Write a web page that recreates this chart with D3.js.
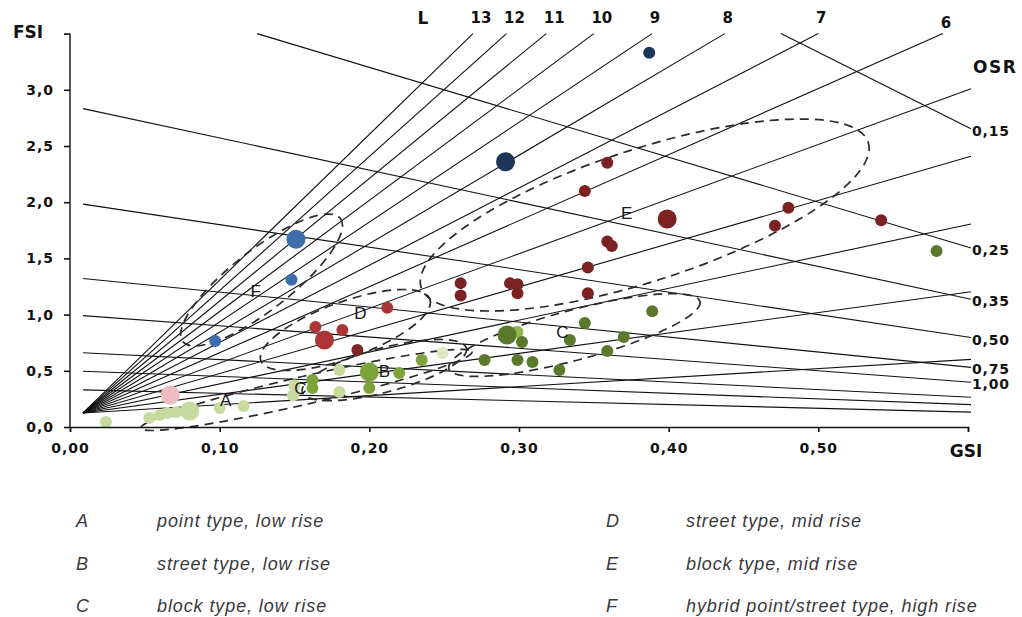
<!DOCTYPE html>
<html>
<head>
<meta charset="utf-8">
<script src="https://cdn.jsdelivr.net/npm/d3@7"></script>
<style>
  body { margin: 0; background: #fff; }
  text { font-family: "Liberation Sans", Arial, sans-serif; }
  .bold { font-family: "DejaVu Sans", sans-serif; font-weight: bold; fill: #111; }
</style>
</head>
<body>
<svg width="1022" height="617"></svg>
<script>
// Linhas de pavimentos (L) e de OSR
var floors = [1, 2, 3, 4, 5, 6, 7, 8, 9, 10, 11, 12, 13];
var floorLabels = [6, 7, 8, 9, 10, 11, 12, 13];
var osrValues = [0.15, 0.25, 0.35, 0.50, 0.75, 1.00, 1.50, 2.00, 3.00];
var osrLabels = ["0,15", "0,25", "0,35", "0,50", "0,75", "1,00"];

// Ticks
var xTicks = [0, 0.1, 0.2, 0.3, 0.4, 0.5, 0.6];
var xTickLabels = ["0,00", "0,10", "0,20", "0,30", "0,40", "0,50", ""];
var yTicks = [0, 0.5, 1, 1.5, 2, 2.5, 3, 3.5];
var yTickLabels = ["0,0", "0,5", "1,0", "1,5", "2,0", "2,5", "3,0", ""];

// Pontos (GSI, FSI, tom, tamanho relativo)
var gsiValues = [0.291, 0.387,
  0.151, 0.148, 0.097,
  0.359, 0.344, 0.399, 0.359, 0.362, 0.346, 0.346, 0.261, 0.261, 0.294, 0.299, 0.299, 0.480, 0.471, 0.542,
  0.164, 0.170, 0.182, 0.212, 0.192,
  0.067,
  0.024, 0.053, 0.060, 0.065, 0.071, 0.080, 0.100, 0.116, 0.150, 0.149, 0.180, 0.180, 0.249,
  0.162, 0.162, 0.200, 0.200, 0.220, 0.235, 0.299,
  0.292, 0.302, 0.277, 0.299, 0.309, 0.327, 0.334, 0.344, 0.359, 0.370, 0.389, 0.579];
var fsiValues = [2.36, 3.33,
  1.67, 1.31, 0.765,
  2.35, 2.10, 1.85, 1.65, 1.61, 1.42, 1.19, 1.28, 1.17, 1.28, 1.27, 1.19, 1.95, 1.79, 1.84,
  0.89, 0.774, 0.863, 1.06, 0.685,
  0.285,
  0.045, 0.08, 0.107, 0.125, 0.133, 0.142, 0.169, 0.187, 0.37, 0.28, 0.507, 0.311, 0.658,
  0.418, 0.347, 0.489, 0.347, 0.48, 0.596, 0.845,
  0.818, 0.756, 0.596, 0.596, 0.578, 0.507, 0.774, 0.925, 0.676, 0.80, 1.03, 1.566];
var shade = ["navy", "navy",
  "blue", "blue", "blue",
  "darkred", "darkred", "darkred", "darkred", "darkred", "darkred", "darkred", "darkred", "darkred", "darkred", "darkred", "darkred", "darkred", "darkred", "darkred",
  "red", "red", "red", "red", "maroon",
  "pink",
  "light", "light", "light", "light", "light", "light", "light", "light", "light", "light", "light", "light", "pale",
  "mid", "mid", "mid", "mid", "mid", "mid", "midlight",
  "dark", "dark", "dark", "dark", "dark", "dark", "dark", "dark", "dark", "dark", "dark", "dark"];
var size = [2, 1,
  2, 1, 1,
  1, 1, 2, 1, 1, 1, 1, 1, 1, 1, 1, 1, 1, 1, 1,
  1, 2, 1, 1, 1,
  2,
  1, 1, 1, 1, 1, 2, 1, 1, 1, 1, 1, 1, 1,
  1, 1, 2, 1, 1, 1, 1,
  2, 1, 1, 1, 1, 1, 1, 1, 1, 1, 1, 1];

// Agrupamentos (centro em GSI/FSI)
var clusterNames = ["A", "B", "C", "D", "E", "F"];
var clusterGsi = [0.158, 0.210, 0.337, 0.184, 0.384, 0.128];
var clusterFsi = [0.330, 0.507, 0.818, 0.863, 1.886, 1.308];

// Letras dentro do grafico
var letterText = ["A", "B", "C", "C", "D", "E", "F"];
var letterGsi = [0.104, 0.210, 0.154, 0.329, 0.194, 0.372, 0.124];
var letterFsi = [0.24, 0.498, 0.347, 0.845, 1.014, 1.904, 1.21];

// Legenda
var legendKeys = ["A", "B", "C", "D", "E", "F"];
var legendText = ["point type, low rise", "street type, low rise", "block type, low rise",
  "street type, mid rise", "block type, mid rise", "hybrid point/street type, high rise"];

var svg = d3.select("svg");
var x = d3.scaleLinear().domain([0, 0.6]).range([70, 968]);
var y = d3.scaleLinear().domain([0, 3.5]).range([427, 33.6]);
var gMin = 0.0087, gMax = 0.602, fMax = 3.5;

// linhas L: saem do ponto de convergencia ate a borda
floors.forEach(function (L) {
  var g2 = gMax, f2 = L * gMax;
  if (f2 > fMax) { f2 = fMax; g2 = fMax / L; }
  svg.append("line")
    .attr("x1", x(gMin)).attr("y1", y(0.125))
    .attr("x2", x(g2)).attr("y2", y(f2))
    .attr("stroke", "#111").attr("stroke-width", 1.1);
});

// linhas OSR: FSI = (1 - GSI) / OSR
osrValues.forEach(function (o) {
  var g1 = gMin, f1 = (1 - g1) / o;
  if (f1 > fMax) { f1 = fMax; g1 = 1 - fMax * o; }
  svg.append("line")
    .attr("x1", x(g1)).attr("y1", y(f1))
    .attr("x2", x(gMax)).attr("y2", y((1 - gMax) / o))
    .attr("stroke", "#111").attr("stroke-width", 1.1);
});

// elipses tracejadas
var ellRx = {A: 170, B: 85, C: 130, D: 90, E: 235, F: 100};
var ellRy = {A: 14, B: 22, C: 25, D: 28, E: 66, F: 30};
var ellRot = {A: -13, B: -15, C: -15, D: -20, E: -18, F: -38};
clusterNames.forEach(function (n, i) {
  svg.append("ellipse")
    .attr("transform", "translate(" + x(clusterGsi[i]) + "," + y(clusterFsi[i]) + ") rotate(" + ellRot[n] + ")")
    .attr("rx", ellRx[n]).attr("ry", ellRy[n])
    .attr("fill", "none").attr("stroke", "#2a2a2a")
    .attr("stroke-width", 1.7).attr("stroke-dasharray", "9,6");
});

// pontos
var color = d3.scaleOrdinal()
  .domain(["navy", "blue", "darkred", "red", "maroon", "pink", "light", "pale", "mid", "midlight", "dark"])
  .range(["#1d3658", "#3d6dab", "#7c2222", "#ad3434", "#7e2626", "#ecbcc0", "#c7db9f", "#dbe8c0", "#7da33b", "#93b54e", "#5a792b"]);
var radius = d3.scaleLinear().domain([1, 2]).range([6, 9.5]);

gsiValues.forEach(function (g, i) {
  svg.append("circle")
    .attr("cx", x(g)).attr("cy", y(fsiValues[i]))
    .attr("r", radius(size[i]))
    .attr("fill", color(shade[i]));
});

// letras dos grupos
letterText.forEach(function (t, i) {
  svg.append("text")
    .attr("x", x(letterGsi[i])).attr("y", y(letterFsi[i]))
    .attr("text-anchor", "middle").attr("dy", "0.36em")
    .attr("font-family", "DejaVu Sans, sans-serif")
    .attr("font-size", 17).attr("fill", "#1a1a1a")
    .text(t);
});

// eixos
var xAxis = d3.axisBottom(x).tickValues(xTicks).tickSize(5).tickPadding(11)
  .tickFormat(function (d, i) { return xTickLabels[i]; });
var yAxis = d3.axisLeft(y).tickValues(yTicks).tickSize(6).tickPadding(10)
  .tickFormat(function (d, i) { return yTickLabels[i]; });

var gx = svg.append("g").attr("transform", "translate(0,427)").call(xAxis);
var gy = svg.append("g").attr("transform", "translate(70,0)").call(yAxis);
[gx, gy].forEach(function (g) {
  g.select(".domain").attr("stroke", "#111").attr("stroke-width", 1.4);
  g.selectAll(".tick line").attr("stroke", "#111").attr("stroke-width", 1.6);
  g.selectAll(".tick text").attr("class", "bold").attr("font-size", 14)
    .attr("letter-spacing", 1).attr("font-family", null);
});
gy.select(".domain").attr("d", "M70,33.6V427").attr("transform", "translate(-70,0)");

// titulos
svg.append("text").attr("class", "bold").attr("x", 28).attr("y", 38).attr("text-anchor", "middle")
  .attr("font-size", 17).text("FSI");
svg.append("text").attr("class", "bold").attr("x", 966).attr("y", 457).attr("text-anchor", "middle")
  .attr("font-size", 17).text("GSI");
svg.append("text").attr("class", "bold").attr("x", 973).attr("y", 73)
  .attr("font-size", 17).attr("letter-spacing", 1.5).text("OSR");
svg.append("text").attr("class", "bold").attr("x", 423).attr("y", 24).attr("text-anchor", "middle")
  .attr("font-size", 17).text("L");

// rotulos L
floorLabels.forEach(function (L) {
  var g2 = Math.min(gMax, fMax / L);
  svg.append("text").attr("class", "bold")
    .attr("x", x(g2) + (L >= 10 ? 8 : 3))
    .attr("y", L === 6 ? 28 : 23)
    .attr("text-anchor", "middle")
    .attr("font-size", 15)
    .text(L);
});

// rotulos OSR
osrLabels.forEach(function (t, i) {
  svg.append("text").attr("class", "bold")
    .attr("x", 972).attr("y", y((1 - gMax) / osrValues[i]) + 7)
    .attr("font-size", 14).attr("letter-spacing", 0.8)
    .text(t);
});

// legenda
legendKeys.forEach(function (k, i) {
  var col = Math.floor(i / 3), row = i % 3;
  svg.append("text")
    .attr("x", col ? 606 : 76).attr("y", 527 + row * 42.5)
    .attr("font-size", 18).attr("font-style", "italic").attr("fill", "#3a3a3a")
    .text(k);
  svg.append("text")
    .attr("x", col ? 686 : 157).attr("y", 527 + row * 42.5)
    .attr("font-size", 18).attr("font-style", "italic").attr("fill", "#3a3a3a")
    .attr("letter-spacing", 0.9)
    .text(legendText[i]);
});
</script>
</body>
</html>
